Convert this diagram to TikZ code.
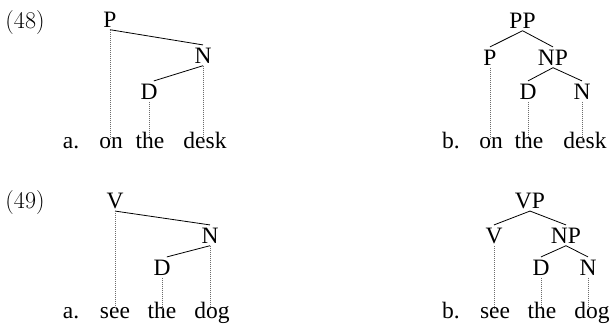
\documentclass[tikz,border=0pt]{standalone}
\usepackage{fontspec}
\newfontfamily\tms{Liberation Serif}
\begin{document}
\begin{tikzpicture}[x=1bp,y=-1bp,
  lab/.style={anchor=base,inner sep=2.5bp,font=\tms\fontsize{23.5bp}{28bp}\selectfont},
  num/.style={anchor=base,inner sep=0pt,font=\fontsize{24bp}{28bp}\selectfont},
  word/.style={lab,text height=0.72em,text depth=0.22em},
  branch/.style={draw=black,line width=0.8bp},
  proj/.style={draw=gray!85!black,densely dotted,line width=1bp}]
\useasboundingbox (0,0) rectangle (610,325);
% (48) a
\node[num] (n48) at (25,28) {(48)};
\node[lab] (aP) at (110,27) {P};
\node[lab] (aN) at (203,63) {N};
\node[lab] (aD) at (149,99) {D};
\node[word] (aa) at (71,148) {a.};
\node[word] (aon) at (111,148) {on};
\node[word] (athe) at (150,148) {the};
\node[word] (adesk) at (205,148) {desk};
\draw[branch] (aP.south) -- (aN.north);
\draw[branch] (aN.south) -- (aD.65);
\draw[proj] (aP.south) -- (aP.south |- aon.north);
\draw[proj] (aD.south) -- (aD.south |- athe.north);
\draw[proj] (aN.south) -- (aN.south |- adesk.north);
% (48) b
\node[lab] (bPP) at (522.5,28) {PP};
\node[lab] (bP) at (490,65) {P};
\node[lab] (bNP) at (553,65) {NP};
\node[lab] (bD) at (528,99) {D};
\node[lab] (bN) at (582,99) {N};
\node[word] (bb) at (451,148) {b.};
\node[word] (bon) at (491,148) {on};
\node[word] (bthe) at (529,148) {the};
\node[word] (bdesk) at (585,148) {desk};
\draw[branch] (bPP.south) -- (bP.north);
\draw[branch] (bPP.south) -- (bNP.north);
\draw[branch] (bNP.south) -- (bD.north);
\draw[branch] (bNP.south) -- (bN.north);
\draw[proj] (bP.south) -- (bP.south |- bon.north);
\draw[proj] (bD.south) -- (bD.south |- bthe.north);
\draw[proj] (bN.south) -- (bN.south |- bdesk.north);
% (49) a
\node[num] (n49) at (25,208) {(49)};
\node[lab] (cV) at (115,208) {V};
\node[lab] (cN) at (210,243) {N};
\node[lab] (cD) at (162,275) {D};
\node[word] (ca) at (71,318) {a.};
\node[word] (csee) at (115,318) {see};
\node[word] (cthe) at (162,318) {the};
\node[word] (cdog) at (212,318) {dog};
\draw[branch] (cV.south) -- (cN.north);
\draw[branch] (cN.south) -- (cD.65);
\draw[proj] (cV.south) -- (cV.south |- csee.north);
\draw[proj] (cD.south) -- (cD.south |- cthe.north);
\draw[proj] (cN.south) -- (cN.south |- cdog.north);
% (49) b
\node[lab] (dVP) at (530,208) {VP};
\node[lab] (dV) at (494,243) {V};
\node[lab] (dNP) at (566,243) {NP};
\node[lab] (dD) at (541,275) {D};
\node[lab] (dN) at (588,275) {N};
\node[word] (db) at (451,318) {b.};
\node[word] (dsee) at (495,318) {see};
\node[word] (dthe) at (542,318) {the};
\node[word] (ddog) at (592,318) {dog};
\draw[branch] (dVP.south) -- (dV.north);
\draw[branch] (dVP.south) -- (dNP.north);
\draw[branch] (dNP.south) -- (dD.north);
\draw[branch] (dNP.south) -- (dN.north);
\draw[proj] (dV.south) -- (dV.south |- dsee.north);
\draw[proj] (dD.south) -- (dD.south |- dthe.north);
\draw[proj] (dN.south) -- (dN.south |- ddog.north);
\end{tikzpicture}
\end{document}
